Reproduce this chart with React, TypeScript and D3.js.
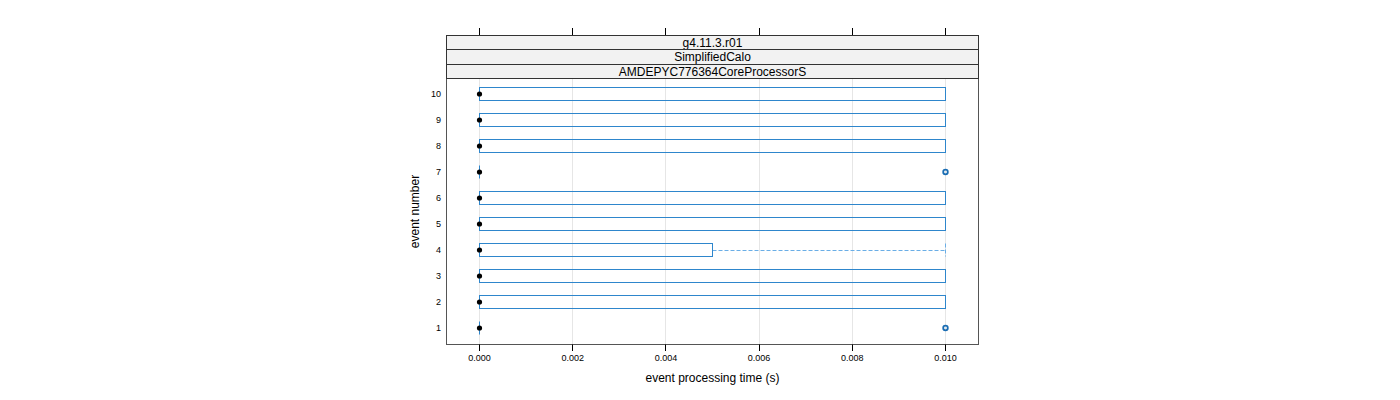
import React from "react";
import * as d3 from "d3";

const stripLabels = ["g4.11.3.r01", "SimplifiedCalo", "AMDEPYC776364CoreProcessorS"];
const events = [1, 2, 3, 4, 5, 6, 7, 8, 9, 10];
const lowerWhisker = [0, 0, 0, 0, 0, 0, 0, 0, 0, 0];
const q1 = [0, 0, 0, 0, 0, 0, 0, 0, 0, 0];
const medians = [0, 0, 0, 0, 0, 0, 0, 0, 0, 0];
const q3 = [0, 0.01, 0.01, 0.005, 0.01, 0.01, 0, 0.01, 0.01, 0.01];
const upperWhisker = [0, 0.01, 0.01, 0.01, 0.01, 0.01, 0, 0.01, 0.01, 0.01];
const outliers: number[][] = [[0.01], [], [], [], [], [], [0.01], [], [], []];
const xTicks = [0, 0.002, 0.004, 0.006, 0.008, 0.01];

const BOX = "#2e86cc";
const PT = "#1a6db3";
const WH = "#6aaee6";

export default function App() {
  const panel = { left: 446.5, right: 978.5, top: 78.5, bottom: 344.5 };
  const x = d3.scaleLinear().domain([0, 0.01]).range([479.5, 945.5]);
  const y = d3.scaleLinear().domain([1, 10]).range([328, 94]);
  const hh = 6.5;
  const strips = [
    [35.5, 49.5],
    [49.5, 64.5],
    [64.5, 78.5],
  ];
  const fmt = d3.format(".3f");
  const font = "'Liberation Sans', Arial, sans-serif";
  const px = (v: number) => Math.floor(v) + 0.5;

  return (
    <svg width={1400} height={400} style={{ position: "absolute", left: 0, top: 0 }} fontFamily={font}>
      <rect x={0} y={0} width={1400} height={400} fill="#fff" />
      {xTicks.map((t, i) => (
        <line key={"g" + i} x1={px(x(t))} x2={px(x(t))} y1={panel.top} y2={panel.bottom} stroke="#e6e6e6" strokeWidth={1} />
      ))}
      {events.map((e, i) => {
        const cy = y(e);
        const bx1 = x(q1[i]);
        const bx2 = x(q3[i]);
        const w1 = x(upperWhisker[i]);
        const w0 = x(lowerWhisker[i]);
        return (
          <g key={"b" + i}>
            {w1 > bx2 && (
              <>
                <line x1={bx2} x2={w1} y1={cy + 0.5} y2={cy + 0.5} stroke={WH} strokeWidth={1} strokeDasharray="4 2" />
                <line x1={w1} x2={w1} y1={cy - hh} y2={cy + hh} stroke={WH} strokeWidth={1} strokeDasharray="4 2" />
              </>
            )}
            {w0 < bx1 && (
              <line x1={w0} x2={bx1} y1={cy + 0.5} y2={cy + 0.5} stroke={WH} strokeWidth={1} strokeDasharray="4 2" />
            )}
            {bx2 > bx1 ? (
              <rect x={bx1} y={cy - hh} width={bx2 - bx1} height={2 * hh} fill="none" stroke={BOX} strokeWidth={1} />
            ) : (
              <line x1={bx1} x2={bx1} y1={cy - hh} y2={cy + hh} stroke={BOX} strokeWidth={1} />
            )}
            <circle cx={x(medians[i])} cy={cy} r={2.6} fill="#000" />
            {outliers[i].map((o, j) => (
              <circle key={j} cx={x(o)} cy={cy} r={2.3} fill="none" stroke={PT} strokeWidth={1.8} />
            ))}
          </g>
        );
      })}
      <rect x={panel.left} y={panel.top} width={panel.right - panel.left} height={panel.bottom - panel.top} fill="none" stroke="#555" strokeWidth={1} />
      {stripLabels.map((s, i) => (
        <g key={"s" + i}>
          <rect x={panel.left} y={strips[i][0]} width={panel.right - panel.left} height={strips[i][1] - strips[i][0]} fill="#f2f2f2" stroke="#333" strokeWidth={1} />
          <text x={(panel.left + panel.right) / 2} y={(strips[i][0] + strips[i][1]) / 2 + 4.2} textAnchor="middle" fontSize={12} fill="#000">{s}</text>
        </g>
      ))}
      {xTicks.map((t, i) => (
        <g key={"t" + i}>
          <line x1={px(x(t))} x2={px(x(t))} y1={28} y2={35} stroke="#000" strokeWidth={1} />
          <line x1={px(x(t))} x2={px(x(t))} y1={344.5} y2={351} stroke="#000" strokeWidth={1} />
          <text x={x(t)} y={361} textAnchor="middle" fontSize={9} fill="#000">{fmt(t)}</text>
        </g>
      ))}
      {events.map((e, i) => (
        <text key={"y" + i} x={441} y={y(e) + 3.2} textAnchor="end" fontSize={9} fill="#000">{e}</text>
      ))}
      <text x={(panel.left + panel.right) / 2} y={382} textAnchor="middle" fontSize={12} fill="#000">event processing time (s)</text>
      <text transform={`translate(419, ${(panel.top + panel.bottom) / 2}) rotate(-90)`} textAnchor="middle" fontSize={12} fill="#000">event number</text>
    </svg>
  );
}
